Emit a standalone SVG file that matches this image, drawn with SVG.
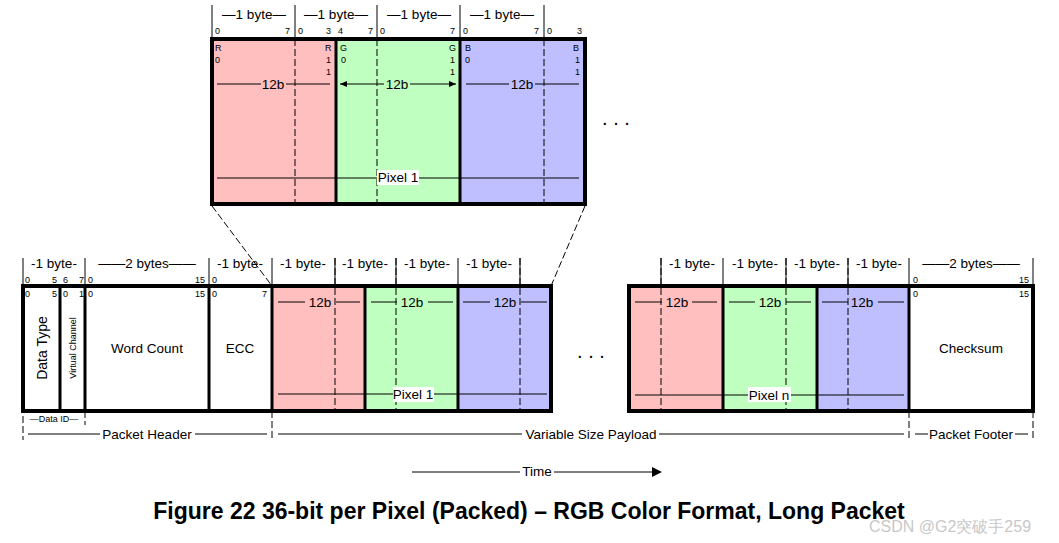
<svg xmlns="http://www.w3.org/2000/svg" width="1059" height="543" viewBox="0 0 1059 543">
<style>
text{font-family:"Liberation Sans",Arial,sans-serif;fill:#000}
.l{font-size:13.5px;text-anchor:middle}
.b{font-size:9px}
.bx{fill:none;stroke:#000;stroke-width:4}
.th{stroke:#000;stroke-width:3}
.ln{stroke:#000;stroke-width:1;fill:none}
.d{stroke:#000;stroke-width:1;stroke-dasharray:7,3;fill:none}
.r{fill:#ffbfbf}.g{fill:#bfffbf}.bl{fill:#bfbfff}
</style>
<defs><marker id="a" markerWidth="8" markerHeight="8" refX="7" refY="4" orient="auto-start-reverse"><path d="M0,1L7,4L0,7z" fill="#000"/></marker></defs>
<rect width="1059" height="543" fill="#fff"/>
<g id="zoom">
<rect class="r" x="212" y="39" width="124" height="165"/>
<rect class="g" x="336" y="39" width="124" height="165"/>
<rect class="bl" x="460" y="39" width="125" height="165"/>
<path class="d" d="M295,39V204M377,39V204M544,39V204"/>
<path class="ln" d="M212,5V39M295,5V39M377,5V39M460,5V39M544,5V39"/>
<text class="l" x="254" y="19">—1 byte—</text><text class="l" x="336" y="19">—1 byte—</text><text class="l" x="419" y="19">—1 byte—</text><text class="l" x="502" y="19">—1 byte—</text>
<g class="b"><text x="215" y="34">0</text><text x="285" y="34">7</text><text x="298" y="34">0</text><text x="326" y="34">3</text><text x="338" y="34">4</text><text x="368" y="34">7</text><text x="380" y="34">0</text><text x="450" y="34">7</text><text x="463" y="34">0</text><text x="534" y="34">7</text><text x="547" y="34">0</text><text x="577" y="34">3</text>
<text x="215" y="51">R</text><text x="215" y="63">0</text><text x="325" y="51">R</text><text x="326" y="63">1</text><text x="326" y="75">1</text>
<text x="340" y="51">G</text><text x="341" y="63">0</text><text x="449" y="51">G</text><text x="450" y="63">1</text><text x="450" y="75">1</text>
<text x="465" y="51">B</text><text x="465" y="63">0</text><text x="573" y="51">B</text><text x="575" y="63">1</text><text x="575" y="75">1</text></g>
<path class="ln" d="M217,84H261M286,84H330M466,84H509M535,84H579"/>
<line x1="340" y1="84" x2="384" y2="84" class="ln" marker-start="url(#a)"/><line x1="410" y1="84" x2="456" y2="84" class="ln" marker-end="url(#a)"/>
<text class="l" x="273" y="89">12b</text><text class="l" x="397" y="89">12b</text><text class="l" x="522" y="89">12b</text>
<path class="ln" d="M217,178H579"/>
<rect x="377" y="170" width="42" height="15" fill="#fff"/>
<text class="l" x="398" y="182">Pixel 1</text>
<path class="th" d="M336,39V204M460,39V204"/>
<rect class="bx" x="212" y="39" width="373" height="165"/>
<text x="616" y="125" class="l" style="font-size:20px">. . .</text>
</g>
<g id="connectors">
<path class="d" d="M212,206L272,286M585,206L551,286"/>
</g>
<g id="header">
<path class="ln" d="M23,258V286M85,258V286M209,258V286M272,258V286M335,258V286M396,258V286M458,258V286M520,258V286"/>
<path class="d" d="M23,286V440M85,411V425M272,411V440"/>
<text class="l" x="54" y="268">-1 byte-</text><text class="l" x="147" y="268">——2 bytes——</text><text class="l" x="240" y="268">-1 byte-</text>
<text class="l" x="303" y="268">-1 byte-</text><text class="l" x="365" y="268">-1 byte-</text><text class="l" x="427" y="268">-1 byte-</text><text class="l" x="489" y="268">-1 byte-</text>
<g class="b"><text x="25" y="283">0</text><text x="52" y="283">5</text><text x="63" y="283">6</text><text x="79" y="283">7</text><text x="88" y="283">0</text><text x="195" y="283">15</text><text x="212" y="283">0</text>
<text x="25" y="297">0</text><text x="52" y="297">5</text><text x="63" y="297">0</text><text x="79" y="297">1</text><text x="88" y="297">0</text><text x="195" y="297">15</text><text x="212" y="297">0</text><text x="262" y="297">7</text></g>
<rect class="r" x="272" y="286" width="93" height="125"/><rect class="g" x="365" y="286" width="93" height="125"/><rect class="bl" x="458" y="286" width="93" height="125"/>
<path class="d" d="M335,258V411M396,258V411M520,258V411"/>
<path class="ln" d="M278,302H305M336,302H360M371,302H397M428,302H453M463,302H490M521,302H547M278,394H547"/>
<text class="l" x="320" y="307">12b</text><text class="l" x="412" y="307">12b</text><text class="l" x="505" y="307">12b</text>
<rect x="393" y="387" width="41" height="15" fill="#fff"/><text class="l" x="413" y="399">Pixel 1</text>
<path class="th" d="M60,286V411M85,286V411M209,286V411M272,286V411M365,286V411M458,286V411"/>
<rect class="bx" x="23" y="286" width="528" height="125"/>
<text class="l" x="0" y="0" transform="translate(47,348) rotate(-90)" style="font-size:14px">Data Type</text>
<text x="0" y="0" transform="translate(76,348) rotate(-90)" style="font-size:9px;text-anchor:middle">Virtual Channel</text>
<text class="l" x="147" y="353">Word Count</text><text class="l" x="240" y="353">ECC</text>
</g>
<text x="591" y="358" class="l" style="font-size:20px">. . .</text>
<g id="tail">
<path class="ln" d="M661,258V286M723,258V286M786,258V286M848,258V286M909,258V286M1033,258V286"/>
<text class="l" x="692" y="268">-1 byte-</text><text class="l" x="755" y="268">-1 byte-</text><text class="l" x="817" y="268">-1 byte-</text><text class="l" x="879" y="268">-1 byte-</text><text class="l" x="971" y="268">——2 bytes——</text>
<g class="b"><text x="913" y="283">0</text><text x="1019" y="283">15</text><text x="913" y="297">0</text><text x="1019" y="297">15</text></g>
<rect class="r" x="629" y="286" width="94" height="125"/><rect class="g" x="723" y="286" width="94" height="125"/><rect class="bl" x="817" y="286" width="92" height="125"/>
<path class="d" d="M661,258V411M786,258V411M848,258V411M909,411V440M1033,411V440"/>
<path class="ln" d="M635,302H662M692,302H717M729,302H755M786,302H811M822,302H848M878,302H904M635,395H904"/>
<text class="l" x="677" y="307">12b</text><text class="l" x="770" y="307">12b</text><text class="l" x="862" y="307">12b</text>
<rect x="748" y="387" width="43" height="15" fill="#fff"/><text class="l" x="769" y="400">Pixel n</text>
<path class="th" d="M723,286V411M817,286V411M909,286V411"/>
<rect class="bx" x="629" y="286" width="404" height="125"/>
<text class="l" x="971" y="353">Checksum</text>
</g>
<g id="labels">
<text x="54" y="422" style="font-size:9px;text-anchor:middle">—Data ID—</text>
<path class="ln" d="M28,434H100M195,434H267M278,434H522M659,434H904M915,434H928M1015,434H1028"/>
<text class="l" x="147" y="439">Packet Header</text><text class="l" x="591" y="439">Variable Size Payload</text><text class="l" x="971" y="439">Packet Footer</text>
<path class="ln" d="M412,472H520M554,472H652"/>
<path d="M652,467L662,472L652,477z" fill="#000"/>
<text class="l" x="537" y="476">Time</text>
<text x="529" y="519" style="font-size:23px;font-weight:bold;text-anchor:middle">Figure 22 36-bit per Pixel (Packed) – RGB Color Format, Long Packet</text>
<text x="950" y="532" style="font-size:16px;fill:#c8c8c8;text-anchor:middle">CSDN @G2突破手259</text>
</g>
</svg>
